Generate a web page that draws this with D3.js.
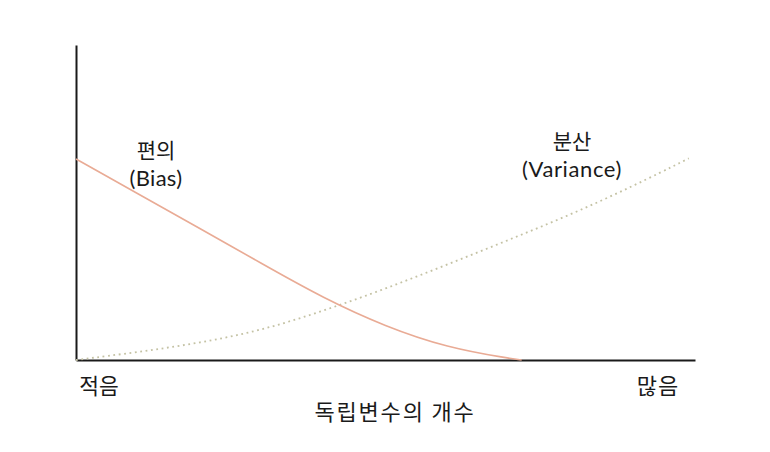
<!DOCTYPE html>
<html><head><meta charset="utf-8">
<script src="https://cdn.jsdelivr.net/npm/d3@7"></script>
<style>
body{margin:0;background:#fff;}
text{font-family:"Noto Sans CJK KR","Noto Sans",sans-serif;fill:#1a1a1a;}
text.latin{font-family:Lato,"Open Sans",sans-serif;}
</style></head>
<body><svg id="c" width="770" height="452"></svg>
<script>
const xValues = [0,10,20,30,40,50,60,70,72];
const biasValues = [63.8,52.8,41.8,30.6,19.6,10.6,3.9,0.5,0];
const varX = [0,10,20,30,40,50,60,70,80,90,99];
const varianceValues = [0,2.5,5.4,9.4,15.6,22.6,30.3,38.2,46.2,55.2,64.0];
const xTickLabels = ["적음","많음"];
const xTitle = "독립변수의 개수";
const seriesLabels = [["편의","(Bias)"],["분산","(Variance)"]];

const svg = d3.select("#c");
const x = d3.scaleLinear().domain([0,100]).range([76,695]);
const y = d3.scaleLinear().domain([0,100]).range([360,45]);

// axes
svg.append("g").attr("transform","translate(76,0)")
  .call(d3.axisLeft(y).tickValues([]).tickSizeOuter(0))
  .select(".domain").attr("stroke","#1a1a1a").attr("stroke-width",2);
svg.append("g").attr("transform","translate(0,360)")
  .call(d3.axisBottom(x).tickValues([]).tickSizeOuter(0))
  .select(".domain").attr("stroke","#1a1a1a").attr("stroke-width",2);

const line = d3.line().x(d=>x(d[0])).y(d=>y(d[1])).curve(d3.curveBasis);

svg.append("path").datum(varX.map((v,i)=>[v,varianceValues[i]]))
  .attr("d",line).attr("fill","none").attr("stroke","#c4c2a4")
  .attr("stroke-width",1.8).attr("stroke-dasharray","1.8,3.6");

svg.append("path").datum(xValues.map((v,i)=>[v,biasValues[i]]))
  .attr("d",line).attr("fill","none").attr("stroke","#e9ab95")
  .attr("stroke-width",1.6);

// series labels
const labPos = [[156,158],[572,149]];
const lab = svg.append("g").attr("text-anchor","middle");
seriesLabels.forEach((s,i)=>{
  lab.append("text").attr("x",labPos[i][0]).attr("y",labPos[i][1])
    .attr("font-size",21).text(s[0]);
  lab.append("text").attr("class","latin").attr("x",labPos[i][0]).attr("y",labPos[i][1]+28)
    .attr("font-size",22).attr("letter-spacing", i===1 ? 0.6 : 0.3).text(s[1]);
});

// x tick labels and title
svg.append("text").attr("x",99).attr("y",394).attr("text-anchor","middle").attr("font-size",21.5).text(xTickLabels[0]);
svg.append("text").attr("x",658).attr("y",394).attr("text-anchor","middle").attr("font-size",22).attr("letter-spacing",1).text(xTickLabels[1]);
svg.append("text").attr("x",395).attr("y",420).attr("text-anchor","middle").attr("font-size",22).attr("letter-spacing",1.8).text(xTitle);
</script></body></html>
